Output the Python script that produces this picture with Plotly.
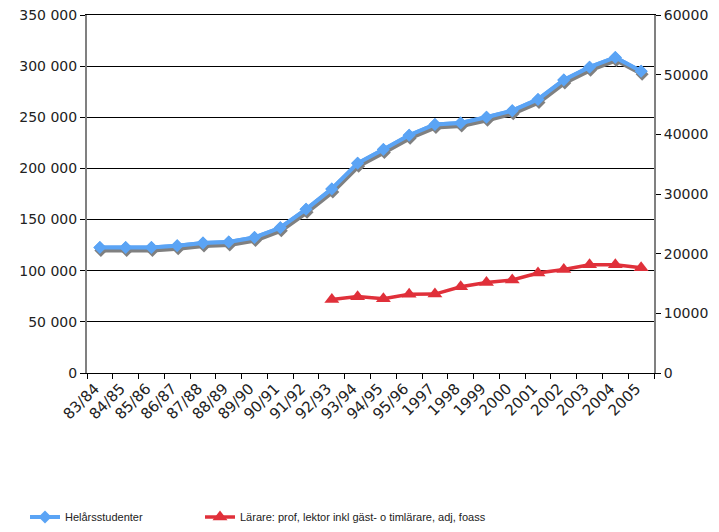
import plotly.graph_objects as go

categories = ["83/84", "84/85", "85/86", "86/87", "87/88", "88/89", "89/90", "90/91",
              "91/92", "92/93", "93/94", "94/95", "95/96", "1997", "1998", "1999",
              "2000", "2001", "2002", "2003", "2004", "2005"]
students = [122700, 122700, 122700, 124300, 127000, 128000, 132500, 142000,
            160000, 180000, 205000, 218500, 232500, 243000, 244500, 250000,
            256500, 267500, 286500, 299000, 308500, 295000]
teachers = [None, None, None, None, None, None, None, None, None,
            12300, 12800, 12450, 13200, 13220, 14450, 15150, 15600,
            16750, 17350, 18150, 18150, 17650]
left_ticks = [0, 50000, 100000, 150000, 200000, 250000, 300000, 350000]
right_ticks = [0, 10000, 20000, 30000, 40000, 50000, 60000]

PAGE_OFF = 8  # default body margin of the html page
W, H = 719 - PAGE_OFF, 532 - PAGE_OFF
# plot area in page pixels
L, R, T, B = 87, 654, 15, 373
SDX, SDY = 1, 3  # shadow offset in px

def xd(l, r):
    return [(l - PAGE_OFF) / W, (r - PAGE_OFF) / W]

def yd(t, b):
    return [(H - (b - PAGE_OFF)) / H, (H - (t - PAGE_OFF)) / H]

BLUE = "#5BA4F5"
RED = "#E0303A"
GREY = "#808080"
TICKFONT = dict(family="DejaVu Sans", size=14, color="#222222")
LEGFONT = dict(family="Liberation Sans", size=11, color="#222222")

blue_line = dict(color=BLUE, width=4)
blue_marker = dict(symbol="diamond", size=10, color=BLUE)

fig = go.Figure()

# Blue series on main axes (provides legend entry + left axis)
fig.add_trace(go.Scatter(
    x=categories, y=students, xaxis="x", yaxis="y",
    name="Helårsstudenter", mode="lines+markers",
    line=blue_line, marker=blue_marker, legend="legend",
))
# Red series on right axis
fig.add_trace(go.Scatter(
    x=categories, y=teachers, xaxis="x", yaxis="y2",
    name="Lärare: prof, lektor inkl gäst- o timlärare, adj, foass",
    mode="lines+markers",
    line=dict(color=RED, width=3.5),
    marker=dict(symbol="triangle-up", size=13, color=RED),
    legend="legend2",
))
# Shadow of blue series (offset axes)
fig.add_trace(go.Scatter(
    x=categories, y=students, xaxis="x3", yaxis="y3",
    mode="lines+markers", showlegend=False, hoverinfo="skip",
    line=dict(color=GREY, width=4),
    marker=dict(symbol="diamond", size=10, color=GREY),
))
# Blue series redrawn above its shadow
fig.add_trace(go.Scatter(
    x=categories, y=students, xaxis="x4", yaxis="y4",
    mode="lines+markers", showlegend=False,
    line=blue_line, marker=blue_marker,
))

xr = [-0.5, len(categories) - 0.5]
hidden = dict(visible=False, showgrid=False, zeroline=False, automargin=False)

fig.update_layout(
    width=W, height=H,
    margin=dict(l=0, r=0, t=0, b=0, autoexpand=False),
    paper_bgcolor="white", plot_bgcolor="rgba(0,0,0,0)",
    separators=", ",
    font=dict(family="DejaVu Sans", size=14, color="#222222"),
    xaxis=dict(
        domain=xd(L, R), anchor="y", type="category", range=xr,
        categoryorder="array", categoryarray=categories,
        showline=True, linecolor="#000000", linewidth=1, mirror=True,
        ticks="outside", ticklen=5, tickcolor="#000000", tickson="boundaries",
        tickangle=-45, tickfont=dict(family="DejaVu Sans", size=15, color="#222222"),
        ticklabelshift=-5,
        showgrid=False, zeroline=False, automargin=False,
    ),
    yaxis=dict(
        domain=yd(T, B), anchor="x", range=[0, 350000],
        tickvals=left_ticks, tickformat=",d",
        showline=True, linecolor=GREY, linewidth=2,
        ticks="outside", ticklen=5, tickcolor="#000000",
        showgrid=True, gridcolor="#000000", gridwidth=1, zeroline=False,
        tickfont=TICKFONT, automargin=False, ticklabeloverflow="allow",
    ),
    yaxis2=dict(
        overlaying="y", side="right", anchor="x", range=[0, 60000],
        tickvals=right_ticks, tickformat="d",
        showline=True, linecolor=GREY, linewidth=2,
        ticks="outside", ticklen=5, tickcolor="#000000",
        showgrid=False, zeroline=False, tickfont=TICKFONT, automargin=False,
        ticklabeloverflow="allow",
    ),
    xaxis3=dict(domain=xd(L + SDX, R + SDX), anchor="y3", type="category", range=xr,
                categoryorder="array", categoryarray=categories, **hidden),
    yaxis3=dict(domain=yd(T + SDY, B + SDY), anchor="x3", range=[0, 350000], **hidden),
    xaxis4=dict(domain=xd(L, R), anchor="y4", type="category", range=xr,
                categoryorder="array", categoryarray=categories, **hidden),
    yaxis4=dict(domain=yd(T, B), anchor="x4", range=[0, 350000], **hidden),
    legend=dict(
        orientation="h", x=17 / W, xanchor="left", y=15 / H, yanchor="middle",
        font=LEGFONT, bgcolor="rgba(0,0,0,0)",
    ),
    legend2=dict(
        orientation="h", x=192 / W, xanchor="left", y=15 / H, yanchor="middle",
        font=LEGFONT, bgcolor="rgba(0,0,0,0)",
    ),
    showlegend=True,
)

fig.write_html("out.html")
